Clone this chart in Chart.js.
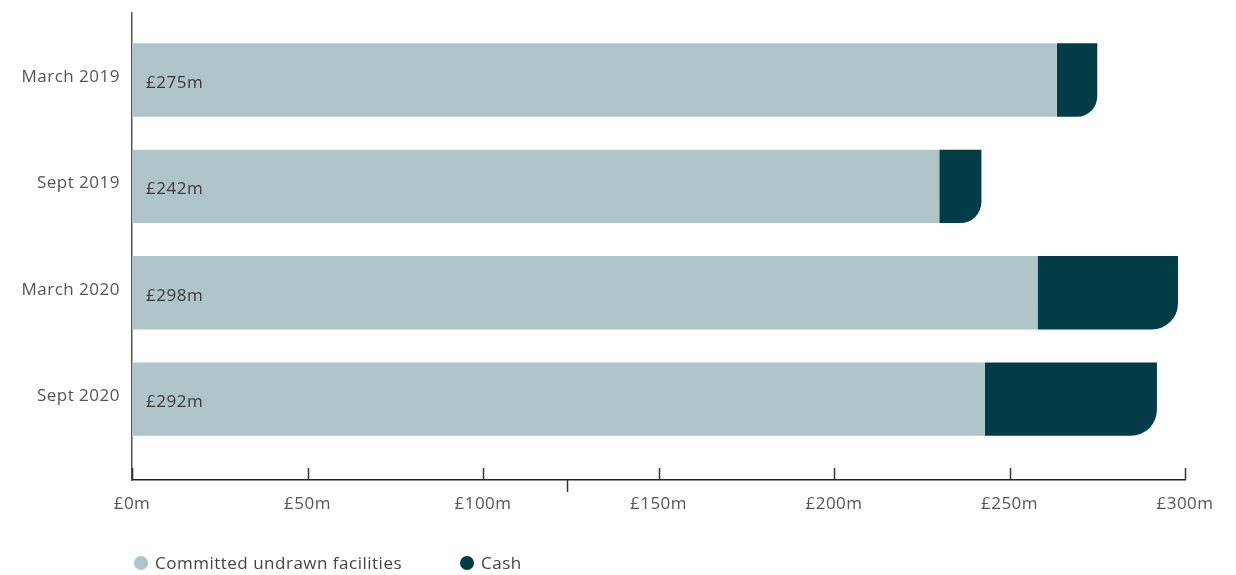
<!DOCTYPE html>
<html>
<head>
<meta charset="utf-8">
<script src="https://cdn.jsdelivr.net/npm/chart.js@4.4.1/dist/chart.umd.min.js"></script>
<style>
  html, body { margin: 0; padding: 0; background: #fff; }
  #wrap { width: 1236px; height: 575px; position: relative; }
</style>
</head>
<body>
<div id="wrap"><canvas id="liquidityChart"></canvas></div>
<script>
const periods = ['March 2019', 'Sept 2019', 'March 2020', 'Sept 2020'];
const committed = [263.5, 230, 258, 243];
const cash = [11.5, 12, 40, 49];
const xTicks = [0, 50, 100, 150, 200, 250, 300];
const strayTick = 124;
const seriesNames = ['Committed undrawn facilities', 'Cash'];
const seriesColours = ['#afc4c7', '#023d47'];

Chart.defaults.font.family = "'Open Sans', sans-serif";
Chart.defaults.color = '#555';

// the original font is wider, spread the letters a little
const spacing = {
    id: 'spacing',
    beforeDraw(chart) { chart.ctx.letterSpacing = '0.5px'; }
};

// total label inside each bar
const barLabels = {
    id: 'barLabels',
    afterDatasetsDraw(chart) {
        const ctx = chart.ctx;
        const meta = chart.getDatasetMeta(0);
        ctx.save();
        ctx.font = "17px 'Open Sans', sans-serif";
        ctx.fillStyle = '#3a3a3a';
        ctx.textBaseline = 'middle';
        ctx.textAlign = 'left';
        meta.data.forEach((bar, i) => {
            ctx.fillText('£' + (committed[i] + cash[i]) + 'm', chart.chartArea.left + 14, bar.y + 3);
        });
        ctx.restore();
    }
};

// tick marks pointing up into the plot, plus the odd one below the axis
const tickMarks = {
    id: 'tickMarks',
    afterDraw(chart) {
        const ctx = chart.ctx;
        const x = chart.scales.x;
        const bottom = chart.chartArea.bottom;
        ctx.save();
        ctx.strokeStyle = '#333';
        ctx.lineWidth = 1.5;
        xTicks.forEach(v => {
            const px = Math.round(x.getPixelForValue(v)) + 0.5;
            ctx.beginPath();
            ctx.moveTo(px, bottom - 12);
            ctx.lineTo(px, bottom);
            ctx.stroke();
        });
        const sx = Math.round(x.getPixelForValue(strayTick)) + 0.5;
        ctx.beginPath();
        ctx.moveTo(sx, bottom);
        ctx.lineTo(sx, bottom + 12);
        ctx.stroke();
        ctx.restore();
    }
};

// legend at bottom left
const bottomLegend = {
    id: 'bottomLegend',
    afterDraw(chart) {
        const ctx = chart.ctx;
        const starts = [141, 467];
        ctx.save();
        ctx.font = "17px 'Open Sans', sans-serif";
        ctx.textBaseline = 'middle';
        seriesNames.forEach((name, i) => {
            ctx.fillStyle = seriesColours[i];
            ctx.beginPath();
            ctx.arc(starts[i], 563, 7, 0, Math.PI * 2);
            ctx.fill();
            ctx.fillStyle = '#444';
            ctx.fillText(name, starts[i] + 14, 564);
        });
        ctx.restore();
    }
};

new Chart(document.getElementById('liquidityChart'), {
    type: 'bar',
    data: {
        labels: periods,
        datasets: [
            {
                label: seriesNames[0],
                data: committed,
                backgroundColor: seriesColours[0],
                borderRadius: 0
            },
            {
                label: seriesNames[1],
                data: cash,
                backgroundColor: seriesColours[1],
                borderRadius: { bottomRight: 26 }
            }
        ]
    },
    options: {
        indexAxis: 'y',
        responsive: true,
        maintainAspectRatio: false,
        animation: false,
        barPercentage: 0.69,
        categoryPercentage: 1,
        layout: { padding: { top: 13, right: 51, left: 0, bottom: 0 } },
        plugins: {
            legend: { display: false },
            tooltip: { enabled: false }
        },
        scales: {
            x: {
                stacked: true,
                min: 0,
                max: 300,
                afterBuildTicks: s => { s.ticks = xTicks.map(v => ({ value: v })); },
                afterFit: s => { s.height = 95; s.paddingLeft = 0; s.paddingRight = 0; },
                grid: { display: false, drawTicks: false },
                border: { color: '#222', width: 1.5 },
                ticks: {
                    padding: 14,
                    font: { size: 17 },
                    color: '#555',
                    callback: v => '£' + v + 'm'
                }
            },
            y: {
                stacked: true,
                afterBuildTicks: s => {
                    s._startValue = -0.63;
                    s._valueRange = periods.length - 1 + 0.63 + 0.76;
                },
                afterFit: s => { s.width = 132; s.paddingTop = 0; s.paddingBottom = 0; },
                grid: { display: false, drawTicks: false },
                border: { color: '#555', width: 1.5 },
                ticks: {
                    padding: 12,
                    labelOffset: -3,
                    font: { size: 17 },
                    color: '#555'
                }
            }
        }
    },
    plugins: [spacing, barLabels, tickMarks, bottomLegend]
});
</script>
</body>
</html>
